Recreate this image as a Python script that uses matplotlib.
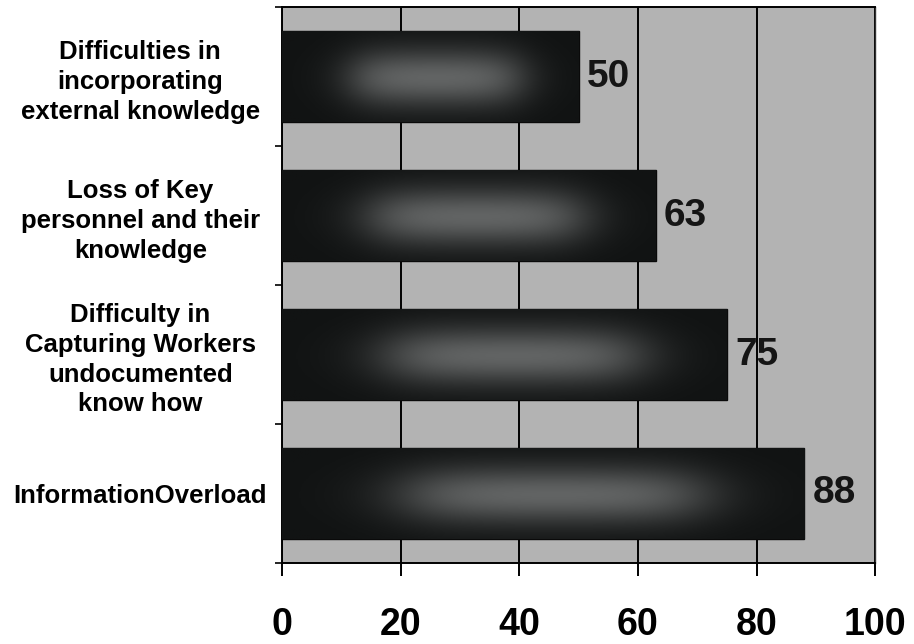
import numpy as np
import matplotlib
matplotlib.use("Agg")
import matplotlib.pyplot as plt
from matplotlib.colors import LinearSegmentedColormap

categories = [
    "Difficulties in\nincorporating\nexternal knowledge",
    "Loss of Key\npersonnel and their\nknowledge",
    "Difficulty in\nCapturing Workers\nundocumented\nknow how",
    "InformationOverload",
]
values = [50, 63, 75, 88]
x_ticks = [0, 20, 40, 60, 80, 100]

plt.rcParams["font.family"] = ["Liberation Sans", "DejaVu Sans"]

fig = plt.figure(figsize=(9.14, 6.44), dpi=100)
ax = fig.add_axes([0.3085, 0.1258, 0.9575 - 0.3085, 0.989 - 0.1258])
ax.set_facecolor("#b3b3b3")

y = np.arange(len(categories))
bars = ax.barh(y, values, height=0.66, color="#121414", edgecolor="#0a0a0a",
               linewidth=1.0, zorder=3)

# soft light patch in the middle of each bar
xs = np.linspace(0, 1, 300)
ys = np.linspace(0, 1, 80)
gx, gy = np.meshgrid(xs, ys)
fx = 1 / (1 + np.exp(-(gx - 0.24) / 0.05)) * 1 / (1 + np.exp((gx - 0.8) / 0.05))
fy = np.exp(-((gy - 0.52) / 0.32) ** 2)
grad = fx * fy
cmap = LinearSegmentedColormap.from_list("bar", ["#111313", "#626464"])
for b in bars:
    x0, y0, w, h = b.get_x(), b.get_y(), b.get_width(), b.get_height()
    im = ax.imshow(grad, extent=[x0, x0 + w, y0 + h, y0], cmap=cmap,
                   vmin=0, vmax=1, aspect="auto", zorder=4, interpolation="bilinear")
    im.set_clip_path(b)

for v, yy in zip(values, y):
    ax.text(v + 1.4, yy, str(v), va="center", ha="left", fontsize=28,
            fontweight="bold", color="#151515", zorder=5)

ax.set_xlim(0, 100)
ax.set_ylim(len(categories) - 0.5, -0.5)
ax.set_xticks(x_ticks)
ax.set_xticklabels([str(t) for t in x_ticks], fontsize=27, fontweight="bold")
ax.tick_params(axis="x", length=9, width=1.4, pad=23, color="black")

ax.set_yticks(y)
ax.set_yticklabels(categories, fontsize=18.5, fontweight="bold", linespacing=1.3)
for lbl in ax.get_yticklabels():
    lbl.set_ha("center")
    lbl.set_multialignment("center")
ax.tick_params(axis="y", which="major", length=0, pad=102)
ax.set_yticks(np.arange(-0.5, len(categories)), minor=True)
ax.tick_params(axis="y", which="minor", length=5, width=1.2, color="black")

ax.grid(axis="x", color="black", linewidth=1.4, zorder=1)
ax.set_axisbelow(True)
for side in ["left", "bottom", "top"]:
    ax.spines[side].set_linewidth(1.4)
    ax.spines[side].set_color("black")
ax.spines["right"].set_linewidth(1.0)
ax.spines["right"].set_color("#333333")

fig.savefig("out.png", dpi=100)
